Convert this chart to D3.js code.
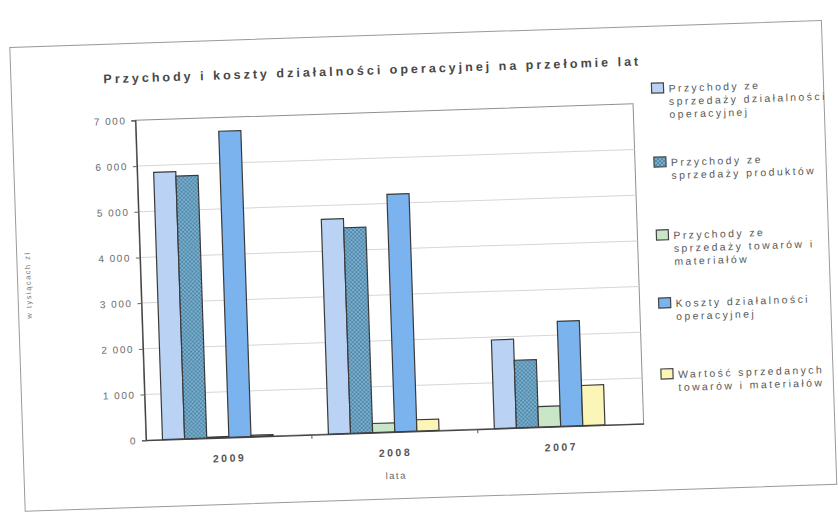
<!DOCTYPE html>
<html>
<head>
<meta charset="utf-8">
<script src="https://cdn.jsdelivr.net/npm/d3@7"></script>
<style>
  html, body { margin: 0; padding: 0; background: #ffffff; }
  svg { display: block; }
  text { font-family: "Liberation Sans", Arial, sans-serif; }
</style>
</head>
<body>
<div id="chart"></div>
<script>
// Categories (years) and series values, in thousands of zloty
const years = ["2009", "2008", "2007"];
const przychodyOperacyjne = [5850, 4700, 1940];
const przychodyProdukty   = [5750, 4500, 1480];
const przychodyTowary     = [20, 200, 450];
const kosztyOperacyjne    = [6700, 5200, 2300];
const wartoscTowarow      = [30, 250, 880];

const yTicks = [0, 1000, 2000, 3000, 4000, 5000, 6000, 7000];

const seriesLabels = [
  ["Przychody ze", "sprzedaży działalności", "operacyjnej"],
  ["Przychody ze", "sprzedaży produktów"],
  ["Przychody ze", "sprzedaży towarów i", "materiałów"],
  ["Koszty działalności", "operacyjnej"],
  ["Wartość sprzedanych", "towarów i materiałów"]
];

const title = "Przychody i koszty działalności operacyjnej na przełomie lat";
const xTitle = "lata";
const yTitle = "w tysiącach zł";

// ---- drawing ----
const W = 838, H = 514;
const series = [przychodyOperacyjne, przychodyProdukty, przychodyTowary, kosztyOperacyjne, wartoscTowarow];
const fills = ["#bad3f5", "url(#hatch)", "#c9e7c6", "#7ab3ed", "#fbf5b8"];

const svg = d3.select("#chart").append("svg")
  .attr("width", W).attr("height", H);

const defs = svg.append("defs");
const pat = defs.append("pattern")
  .attr("id", "hatch").attr("patternUnits", "userSpaceOnUse")
  .attr("width", 4).attr("height", 4);
pat.append("rect").attr("width", 4).attr("height", 4).attr("fill", "#7cb0cf");
pat.append("path").attr("d", "M0,0 L4,4 M4,0 L0,4")
  .attr("stroke", "#4d84a6").attr("stroke-width", 0.9);

// the printed page sits slightly tilted
const page = svg.append("g").attr("transform", "rotate(-1.9, 419, 257)");

// chart area frame
page.append("rect")
  .attr("x", 17).attr("y", 34).attr("width", 812).attr("height", 464)
  .attr("fill", "#fff").attr("stroke", "#9a9a9a").attr("stroke-width", 1);

// title
page.append("text")
  .attr("x", 377).attr("y", 73)
  .attr("text-anchor", "middle")
  .attr("font-size", 12.5).attr("font-weight", "bold")
  .attr("fill", "#474747")
  .attr("textLength", 535).attr("lengthAdjust", "spacing")
  .text(title);

const plot = { left: 140, right: 638, top: 111, bottom: 431 };

const x0 = d3.scaleBand().domain(years).range([plot.left, plot.right]);
// five series plus one empty slot per year, 150% gap between groups
const x1 = d3.scaleBand().domain(d3.range(series.length + 1))
  .range([0, x0.bandwidth()]).paddingInner(0).paddingOuter(0.75);
const y = d3.scaleLinear().domain([0, 7000]).range([plot.bottom, plot.top]);

const fmt = d3.formatLocale({ decimal: ",", thousands: " ", grouping: [3], currency: ["", " zł"] }).format(",");

// plot area border
page.append("rect")
  .attr("x", plot.left).attr("y", plot.top)
  .attr("width", plot.right - plot.left).attr("height", plot.bottom - plot.top)
  .attr("fill", "none").attr("stroke", "#8f8f8f").attr("stroke-width", 1);

// gridlines
page.append("g").selectAll("line")
  .data(yTicks.filter(d => d > 0 && d < 7000))
  .join("line")
  .attr("x1", plot.left).attr("x2", plot.right)
  .attr("y1", d => y(d)).attr("y2", d => y(d))
  .attr("stroke", "#d6d6d6").attr("stroke-width", 1);

// y axis
const yAxis = page.append("g")
  .attr("transform", `translate(${plot.left},0)`)
  .call(d3.axisLeft(y).tickValues(yTicks).tickFormat(fmt).tickSize(4).tickPadding(5));
yAxis.select(".domain").attr("stroke", "#444").attr("stroke-width", 1.3);
yAxis.selectAll(".tick line").attr("stroke", "#666");
yAxis.selectAll("text")
  .attr("font-size", 10).attr("fill", "#6a6a6a")
  .attr("letter-spacing", 1.5)
  .attr("font-family", "Liberation Sans, Arial, sans-serif");

// bars
const groups = page.append("g").selectAll("g")
  .data(years)
  .join("g")
  .attr("transform", d => `translate(${x0(d)},0)`);

groups.selectAll("rect")
  .data((yr, yi) => series.map((s, si) => ({ si, v: s[yi] })))
  .join("rect")
  .attr("x", d => x1(d.si))
  .attr("width", x1.bandwidth())
  .attr("y", d => y(d.v))
  .attr("height", d => y(0) - y(d.v))
  .attr("fill", d => fills[d.si])
  .attr("stroke", "#3a3a3a").attr("stroke-width", 1.2);

// x axis
const xAxis = page.append("g")
  .attr("transform", `translate(0,${plot.bottom})`)
  .call(d3.axisBottom(x0).tickSize(0).tickPadding(17));
xAxis.select(".domain").attr("stroke", "#444").attr("stroke-width", 1.3);
xAxis.selectAll("text")
  .attr("font-size", 10.5).attr("font-weight", "bold").attr("fill", "#555")
  .attr("letter-spacing", 2.5)
  .attr("font-family", "Liberation Sans, Arial, sans-serif");
// category separators
page.append("g").selectAll("line")
  .data(years.slice(1))
  .join("line")
  .attr("x1", d => x0(d)).attr("x2", d => x0(d))
  .attr("y1", plot.bottom).attr("y2", plot.bottom + 4)
  .attr("stroke", "#555");

// axis titles
page.append("text")
  .attr("x", (plot.left + plot.right) / 2).attr("y", 478)
  .attr("text-anchor", "middle")
  .attr("font-size", 9.5).attr("fill", "#666").attr("letter-spacing", 1.5)
  .text(xTitle);

page.append("text")
  .attr("transform", "translate(30,272) rotate(-90)")
  .attr("text-anchor", "middle")
  .attr("font-size", 7.5).attr("fill", "#777").attr("letter-spacing", 1.5)
  .text(yTitle);

// legend
const legendTops = [97, 171, 244, 312, 383];
const legend = page.append("g").selectAll("g")
  .data(seriesLabels)
  .join("g")
  .attr("transform", (d, i) => `translate(657,${legendTops[i]})`);

legend.append("rect")
  .attr("x", 0).attr("y", -6).attr("width", 12).attr("height", 10)
  .attr("fill", (d, i) => fills[i])
  .attr("stroke", "#444").attr("stroke-width", 1.2);

legend.append("text")
  .attr("x", 17).attr("y", 3.5)
  .attr("font-size", 10.5).attr("fill", "#5a5a5a").attr("letter-spacing", 2.4)
  .selectAll("tspan")
  .data(d => d)
  .join("tspan")
  .attr("x", 17)
  .attr("dy", (d, i) => i === 0 ? 0 : 13)
  .text(d => d);
</script>
</body>
</html>
